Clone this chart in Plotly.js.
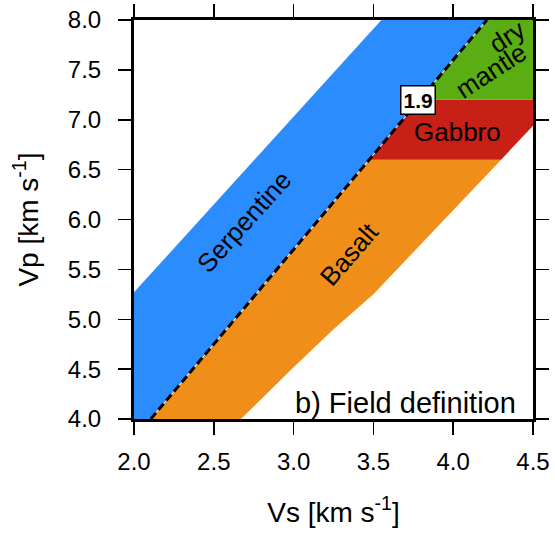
<!DOCTYPE html>
<html>
<head>
<meta charset="utf-8">
<script src="https://cdn.plot.ly/plotly-3.0.1.min.js"></script>
<style>
  html, body { margin: 0; padding: 0; background: #fff; }
  #chart { width: 555px; height: 538px; }
</style>
</head>
<body>
<div id="chart"></div>
<script>
// Field outlines in the Vs–Vp plane (km/s)
const serpentineVs = [2.0, 2.105, 4.211, 3.55, 2.0];
const serpentineVp = [4.0, 4.0, 8.0, 8.0, 5.27];

const basaltVs = [2.105, 2.67, 3.0, 3.25, 3.50, 4.30, 3.474];
const basaltVp = [4.0, 4.0, 4.52, 4.90, 5.25, 6.60, 6.60];

const gabbroVs = [3.474, 4.30, 4.5, 4.5, 3.789];
const gabbroVp = [6.60, 6.60, 6.94, 7.20, 7.20];

const mantleVs = [3.789, 4.5, 4.5, 4.211];
const mantleVp = [7.20, 7.20, 8.0, 8.0];

// Vp/Vs = 1.9 reference line
const ratioVs = [2.105, 4.211];
const ratioVp = [4.0, 8.0];
const ratioLabel = '1.9';

const tickVals = [2.0, 2.5, 3.0, 3.5, 4.0, 4.5];
const tickValsVp = [4.0, 4.5, 5.0, 5.5, 6.0, 6.5, 7.0, 7.5, 8.0];

const FONT = 'Liberation Sans, Arial, Helvetica, sans-serif';

function field(xs, ys, color, name) {
  return {
    x: xs, y: ys, type: 'scatter', mode: 'lines', fill: 'toself',
    fillcolor: color, line: {width: 0, color: color},
    hoverinfo: 'skip', showlegend: false, name: name
  };
}

const data = [
  field(serpentineVs, serpentineVp, '#2b8cfe', 'Serpentine'),
  field(basaltVs, basaltVp, '#f08e1a', 'Basalt'),
  field(gabbroVs, gabbroVp, '#c81f16', 'Gabbro'),
  field(mantleVs, mantleVp, '#5aae14', 'dry mantle'),
  {
    x: ratioVs, y: ratioVp, type: 'scatter', mode: 'lines',
    line: {color: 'rgba(255,255,255,0.85)', width: 1},
    hoverinfo: 'skip', showlegend: false
  },
  {
    x: ratioVs, y: ratioVp, type: 'scatter', mode: 'lines',
    line: {color: '#000', width: 3, dash: '8px,4px'},
    hoverinfo: 'skip', showlegend: false
  }
];

const axisCommon = {
  showgrid: false, zeroline: false,
  showline: true, linecolor: '#000', linewidth: 3, mirror: 'ticks',
  ticks: 'outside', ticklen: 13, tickwidth: 1.5, tickcolor: '#000',
  tickformat: '.1f', tickfont: {family: FONT, size: 24, color: '#000'},
  fixedrange: true
};

const layout = {
  width: 555, height: 538,
  margin: {l: 134, r: 22, t: 20, b: 119},
  paper_bgcolor: '#fff', plot_bgcolor: '#fff',
  font: {family: FONT, color: '#000'},
  xaxis: Object.assign({}, axisCommon, {
    range: [2.0, 4.5], tickvals: tickVals, ticklabelstandoff: 6,
    title: {text: 'Vs [km s<sup>-1</sup>]', font: {family: FONT, size: 28}, standoff: 29}
  }),
  yaxis: Object.assign({}, axisCommon, {
    range: [4.0, 8.0], tickvals: tickValsVp, ticklabelstandoff: 12,
    title: {text: 'Vp [km s<sup>-1</sup>]', font: {family: FONT, size: 28}, standoff: 22}
  }),
  annotations: [
    {x: 2.687, y: 5.98, text: 'Serpentine', showarrow: false, textangle: -48,
     font: {family: FONT, size: 26, color: '#000'}},
    {x: 3.35, y: 5.65, text: 'Basalt', showarrow: false, textangle: -49,
     font: {family: FONT, size: 26, color: '#000'}},
    {x: 4.03, y: 6.88, text: 'Gabbro', showarrow: false,
     font: {family: FONT, size: 26, color: '#000'}},
    {x: 4.335, y: 7.83, text: 'dry', showarrow: false, textangle: -33,
     font: {family: FONT, size: 26, color: '#000'}},
    {x: 4.235, y: 7.49, text: 'mantle', showarrow: false, textangle: -33,
     font: {family: FONT, size: 26, color: '#000'}},
    {x: 3.78, y: 7.2, text: '<b>' + ratioLabel + '</b>', showarrow: false,
     bgcolor: '#fff', bordercolor: '#000', borderwidth: 1.5, borderpad: 2,
     font: {family: FONT, size: 21, color: '#000'}},
    {x: 3.70, y: 4.165, text: 'b) Field definition', showarrow: false,
     font: {family: FONT, size: 29, color: '#000'}}
  ]
};

Plotly.newPlot('chart', data, layout, {staticPlot: true, displayModeBar: false});
</script>
</body>
</html>
